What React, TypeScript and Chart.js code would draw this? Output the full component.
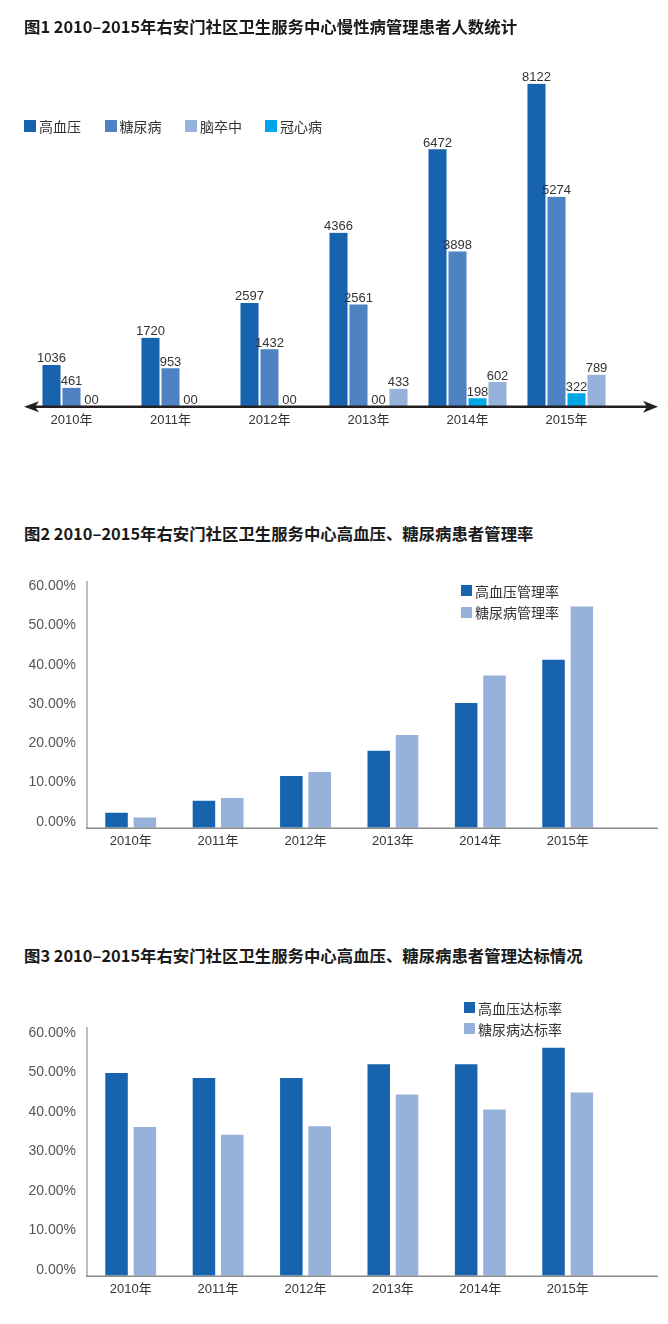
import React, { useEffect, useRef } from "react";
import { Chart, registerables } from "chart.js";

Chart.register(...registerables);

// ---------------- data ----------------
const years = ["2010年", "2011年", "2012年", "2013年", "2014年", "2015年"];

// Figure 1: patients under management (persons)
const hypertensionCount = [1036, 1720, 2597, 4366, 6472, 8122];
const diabetesCount = [461, 953, 1432, 2561, 3898, 5274];
const chdCount = [0, 0, 0, 0, 198, 322];
const strokeCount = [null, null, null, 433, 602, 789];

// Figure 2: management rate (%)
const hypertensionMgmtRate = [3.8, 6.9, 13.2, 19.6, 31.8, 42.8];
const diabetesMgmtRate = [2.6, 7.6, 14.2, 23.6, 38.8, 56.4];

// Figure 3: control (达标) rate (%)
const hypertensionCtrlRate = [51.4, 50.1, 50.1, 53.6, 53.6, 57.8];
const diabetesCtrlRate = [37.7, 35.7, 37.9, 45.9, 42.1, 46.4];

const pctTicks = [0, 10, 20, 30, 40, 50, 60];

// ---------------- style ----------------
const FONT = "'Liberation Sans', 'Noto Sans CJK SC', sans-serif";
const CJK = "'Noto Sans CJK SC', sans-serif";
const C_DARK = "#1763ae";
const C_MID = "#4f82c3";
const C_LIGHT = "#96b1da";
const C_CYAN = "#00a7e6";

const arrowAxis = {
  id: "arrowAxis",
  afterDatasetsDraw(chart: any) {
    const { ctx, chartArea } = chart;
    const y = chartArea.bottom + 0.8;
    const x0 = 24;
    const x1 = chart.width - 10;
    ctx.save();
    ctx.strokeStyle = "#231f20";
    ctx.fillStyle = "#231f20";
    ctx.lineWidth = 2.5;
    ctx.beginPath();
    ctx.moveTo(x0 + 8, y);
    ctx.lineTo(x1 - 8, y);
    ctx.stroke();
    ctx.beginPath();
    ctx.moveTo(x0, y);
    ctx.lineTo(x0 + 15, y - 5.5);
    ctx.lineTo(x0 + 11, y);
    ctx.lineTo(x0 + 15, y + 5.5);
    ctx.closePath();
    ctx.fill();
    ctx.beginPath();
    ctx.moveTo(x1, y);
    ctx.lineTo(x1 - 15, y - 6);
    ctx.lineTo(x1 - 11, y);
    ctx.lineTo(x1 - 15, y + 6);
    ctx.closePath();
    ctx.fill();
    ctx.restore();
  },
};

const barLabels = {
  id: "barLabels",
  afterDatasetsDraw(chart: any) {
    const ctx = chart.ctx;
    ctx.save();
    ctx.font = `13px ${FONT}`;
    ctx.fillStyle = "#333";
    ctx.textAlign = "center";
    ctx.textBaseline = "alphabetic";
    chart.data.datasets.forEach((ds: any, i: number) => {
      const meta = chart.getDatasetMeta(i);
      meta.data.forEach((el: any, j: number) => {
        const v = ds.data[j];
        if (v === null || v === undefined) return;
        ctx.fillText(v === 0 ? "00" : String(v), el.x, el.y - 2.5);
      });
    });
    ctx.restore();
  },
};

const baseLine = {
  id: "baseLine",
  afterDatasetsDraw(chart: any) {
    const { ctx, chartArea } = chart;
    const y = chartArea.bottom + 0.5;
    ctx.save();
    ctx.strokeStyle = "#8a8a8a";
    ctx.lineWidth = 1.6;
    ctx.beginPath();
    ctx.moveTo(chartArea.left - 1, y);
    ctx.lineTo(chart.width - 10, y);
    ctx.stroke();
    ctx.restore();
  },
};

function countConfig(): any {
  return {
    type: "bar",
    data: {
      labels: years,
      datasets: [
        { label: "高血压", data: hypertensionCount, backgroundColor: C_DARK },
        { label: "糖尿病", data: diabetesCount, backgroundColor: C_MID },
        { label: "冠心病", data: chdCount, backgroundColor: C_CYAN },
        { label: "脑卒中", data: strokeCount, backgroundColor: C_LIGHT },
      ],
    },
    options: {
      responsive: false,
      animation: false,
      devicePixelRatio: 1,
      layout: { padding: { left: 22, right: 52, top: 49, bottom: 0 } },
      datasets: {
        bar: {
          skipNull: true,
          barThickness: 20,
          borderWidth: { left: 1.3, right: 1.3, top: 0, bottom: 0 },
          borderColor: "#ffffff",
          borderSkipped: "bottom",
        },
      },
      plugins: { legend: { display: false }, tooltip: { enabled: false }, title: { display: false } },
      scales: {
        x: {
          grid: { display: false, drawTicks: false },
          border: { display: false },
          ticks: { padding: 7, color: "#333", font: { family: FONT, size: 13 }, maxRotation: 0 },
          afterFit: (s: any) => {
            s.height = 34;
          },
        },
        y: { display: false, min: 0, max: 9000 },
      },
    },
    plugins: [arrowAxis, barLabels],
  };
}

function rateConfig(a: number[], b: number[], la: string, lb: string, padTop: number, xH: number): any {
  return {
    type: "bar",
    data: {
      labels: years,
      datasets: [
        { label: la, data: a, backgroundColor: C_DARK },
        { label: lb, data: b, backgroundColor: C_LIGHT },
      ],
    },
    options: {
      responsive: false,
      animation: false,
      devicePixelRatio: 1,
      layout: { padding: { left: 0, right: 56.6, top: padTop, bottom: 0 } },
      datasets: { bar: { categoryPercentage: 0.648, barPercentage: 0.795 } },
      plugins: { legend: { display: false }, tooltip: { enabled: false }, title: { display: false } },
      scales: {
        x: {
          grid: { display: false, drawTicks: false },
          border: { display: false },
          ticks: { padding: 6, color: "#333", font: { family: FONT, size: 13 }, maxRotation: 0 },
          afterFit: (s: any) => {
            s.height = xH;
          },
        },
        y: {
          min: 0,
          max: 62.7,
          afterBuildTicks: (s: any) => {
            s.ticks = pctTicks.map((v) => ({ value: v }));
          },
          grid: { display: false, drawTicks: false },
          border: { display: true, color: "#bdbdbd", width: 2 },
          ticks: {
            padding: 11,
            labelOffset: -6,
            color: "#555",
            font: { family: FONT, size: 14 },
            callback: (v: any) => Number(v).toFixed(2) + "%",
          },
          afterFit: (s: any) => {
            s.width = 87;
          },
        },
      },
    },
    plugins: [baseLine],
  };
}

function ChartCanvas({ top, height, make }: { top: number; height: number; make: () => any }) {
  const ref = useRef<HTMLCanvasElement | null>(null);
  useEffect(() => {
    if (!ref.current) return;
    const chart = new Chart(ref.current, make());
    return () => chart.destroy();
  }, []);
  return (
    <canvas
      ref={ref}
      width={668}
      height={height}
      style={{ position: "absolute", left: 0, top, width: 668, height, display: "block" }}
    />
  );
}

function Title({ top, text }: { top: number; text: string }) {
  return (
    <div
      style={{
        position: "absolute",
        left: 24,
        top,
        fontFamily: CJK,
        fontWeight: 700,
        fontSize: 16.4,
        lineHeight: "17px",
        color: "#1a1a1a",
        whiteSpace: "nowrap",
      }}
    >
      {text}
    </div>
  );
}

function LegendItem({ left, top, color, text, size = 14, box = 12 }: any) {
  return (
    <div
      style={{
        position: "absolute",
        left,
        top,
        display: "flex",
        alignItems: "center",
        height: 18,
        fontFamily: CJK,
        fontSize: size,
        color: "#333",
        whiteSpace: "nowrap",
      }}
    >
      <span style={{ display: "inline-block", width: box, height: box, background: color, marginRight: 3 }} />
      {text}
    </div>
  );
}

export default function App() {
  return (
    <div
      style={{
        position: "absolute",
        left: 0,
        top: 0,
        width: 668,
        height: 1324,
        background: "#ffffff",
        overflow: "hidden",
      }}
    >
      <ChartCanvas top={0} height={440} make={countConfig} />
      <ChartCanvas
        top={560}
        height={300}
        make={() => rateConfig(hypertensionMgmtRate, diabetesMgmtRate, "高血压管理率", "糖尿病管理率", 21.7, 32.3)}
      />
      <ChartCanvas
        top={980}
        height={330}
        make={() => rateConfig(hypertensionCtrlRate, diabetesCtrlRate, "高血压达标率", "糖尿病达标率", 48.3, 34.3)}
      />

      <Title top={18} text="图1 2010–2015年右安门社区卫生服务中心慢性病管理患者人数统计" />
      <Title top={525} text="图2 2010–2015年右安门社区卫生服务中心高血压、糖尿病患者管理率" />
      <Title top={947} text="图3 2010–2015年右安门社区卫生服务中心高血压、糖尿病患者管理达标情况" />

      <LegendItem left={24} top={117} color={C_DARK} text="高血压" />
      <LegendItem left={104.5} top={117} color={C_MID} text="糖尿病" />
      <LegendItem left={185} top={117} color={C_LIGHT} text="脑卒中" />
      <LegendItem left={265} top={117} color={C_CYAN} text="冠心病" />

      <LegendItem left={461} top={581.5} color={C_DARK} text="高血压管理率" box={11} />
      <LegendItem left={461} top={603} color={C_LIGHT} text="糖尿病管理率" box={11} />

      <LegendItem left={464} top={998.5} color={C_DARK} text="高血压达标率" box={11} />
      <LegendItem left={464} top={1019.5} color={C_LIGHT} text="糖尿病达标率" box={11} />
    </div>
  );
}
